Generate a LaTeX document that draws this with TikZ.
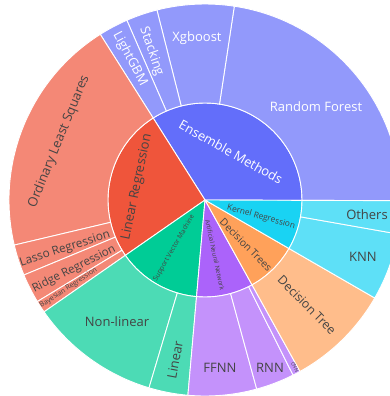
\documentclass[tikz,border=0pt]{standalone}
\usepackage{fontspec}
\setmainfont{Open Sans}

% Parent colours; each leaf ring segment uses its parent colour at 70 %
\definecolor{cEns}{HTML}{636EFA}
\definecolor{cLR}{HTML}{EF553B}
\definecolor{cSVM}{HTML}{00CC96}
\definecolor{cANN}{HTML}{AB63FA}
\definecolor{cDT}{HTML}{FFA15A}
\definecolor{cKR}{HTML}{19D3F3}
\definecolor{txtdark}{HTML}{444444}

% Inner wedge: colour, start angle, end angle
\newcommand\innerwedge[3]{%
  \fill[seg, fill=#1] (0,0) -- (#2:97pt)
    arc[start angle=#2, end angle=#3, radius=97pt] -- cycle;}
% Outer ring segment: colour, start angle, end angle
\newcommand\outerseg[3]{%
  \fill[seg, fill=#1!70!white] (#2:97pt) -- (#2:196pt)
    arc[start angle=#2, end angle=#3, radius=196pt] -- (#3:97pt)
    arc[start angle=#3, end angle=#2, radius=97pt] -- cycle;}

\begin{document}
\begin{tikzpicture}[x=1pt, y=1pt,
  seg/.style={draw=white, line width=0.9pt, line join=round},
  lbl/.style={inner sep=0pt, text=txtdark, font=\fontsize{13}{15}\selectfont},
  lblw/.style={lbl, text=white},
  fs/.style={font=\fontsize{#1}{#1}\selectfont}]
\useasboundingbox (-205,-196) rectangle (185,200);
\clip (-205,-196) rectangle (185,200);

% inner ring
\innerwedge{cEns}{-0.2}{122.3}
\innerwedge{cLR}{122.3}{214.8}
\innerwedge{cSVM}{214.8}{265}
\innerwedge{cANN}{265}{299}
\innerwedge{cDT}{299}{330}
\innerwedge{cKR}{330}{359.8}

% outer ring
\outerseg{cEns}{-0.2}{81.4}
\outerseg{cEns}{81.4}{104.2}
\outerseg{cEns}{104.2}{113.5}
\outerseg{cEns}{113.5}{122.3}
\outerseg{cLR}{122.3}{193.3}
\outerseg{cLR}{193.3}{202.5}
\outerseg{cLR}{202.5}{211.2}
\outerseg{cLR}{211.2}{214.8}
\outerseg{cSVM}{214.8}{253.4}
\outerseg{cSVM}{253.4}{265}
\outerseg{cANN}{265}{285.3}
\outerseg{cANN}{285.3}{296.7}
\outerseg{cANN}{296.7}{299}
\outerseg{cDT}{299}{330}
\outerseg{cKR}{330}{350}
\outerseg{cKR}{350}{359.8}

% inner labels
\node[lblw, rotate=-29.3] (tEns) at (26,48) {Ensemble Methods};
\node[lbl, rotate=78.3] (tLR) at (-68,13) {Linear Regression};
\node[lbl, fs=6.7, rotate=60] (tSVM) at (-31,-48) {Support Vector Machine};
\node[lbl, fs=6.3, rotate=-78] (tANN) at (10,-55) {Artificial Neural Network};
\node[lbl, fs=10.3, rotate=-45.5] (tDTs) at (41,-45) {Decision Trees};
\node[lbl, fs=8.4, rotate=-15.5] (tKR) at (56,-17) {Kernel Regression};

% outer labels
\node[lblw] (tRF) at (111,93) {Random Forest};
\node[lblw] (tXgb) at (-8,162) {Xgboost};
\node[lblw, rotate=-71.1] (tStack) at (-53.5,148.5) {Stacking};
\node[lblw, rotate=-62.1] (tLGBM) at (-75,141) {LightGBM};
\node[lbl, rotate=67.75] (tOLS) at (-146,58.5) {Ordinary Least Squares};
\node[lbl, fs=11.8, rotate=18] (tLasso) at (-140,-49) {Lasso Regression};
\node[lbl, fs=11.5, rotate=27] (tRidge) at (-131,-69) {Ridge Regression};
\node[lbl, fs=7, rotate=33] (tBayes) at (-136.5,-88) {Bayesian Regression};
\node[lbl] (tNonlin) at (-88,-122) {Non-linear};
\node[lbl, rotate=79.2] (tLin) at (-30,-160) {Linear};
\node[lbl] (tFFNN) at (15,-168) {FFNN};
\node[lbl] (tRNN) at (65,-168) {RNN};
\node[lbl, fs=5, rotate=-62.2] (tCNN) at (90,-167) {CNN};
\node[lbl, fs=12.3, rotate=-45.5] (tDT) at (102,-105) {Decision Tree};
\node[lbl] (tKNN) at (158,-57) {KNN};
\node[lbl] (tOthers) at (162,-15) {Others};
\end{tikzpicture}
\end{document}
